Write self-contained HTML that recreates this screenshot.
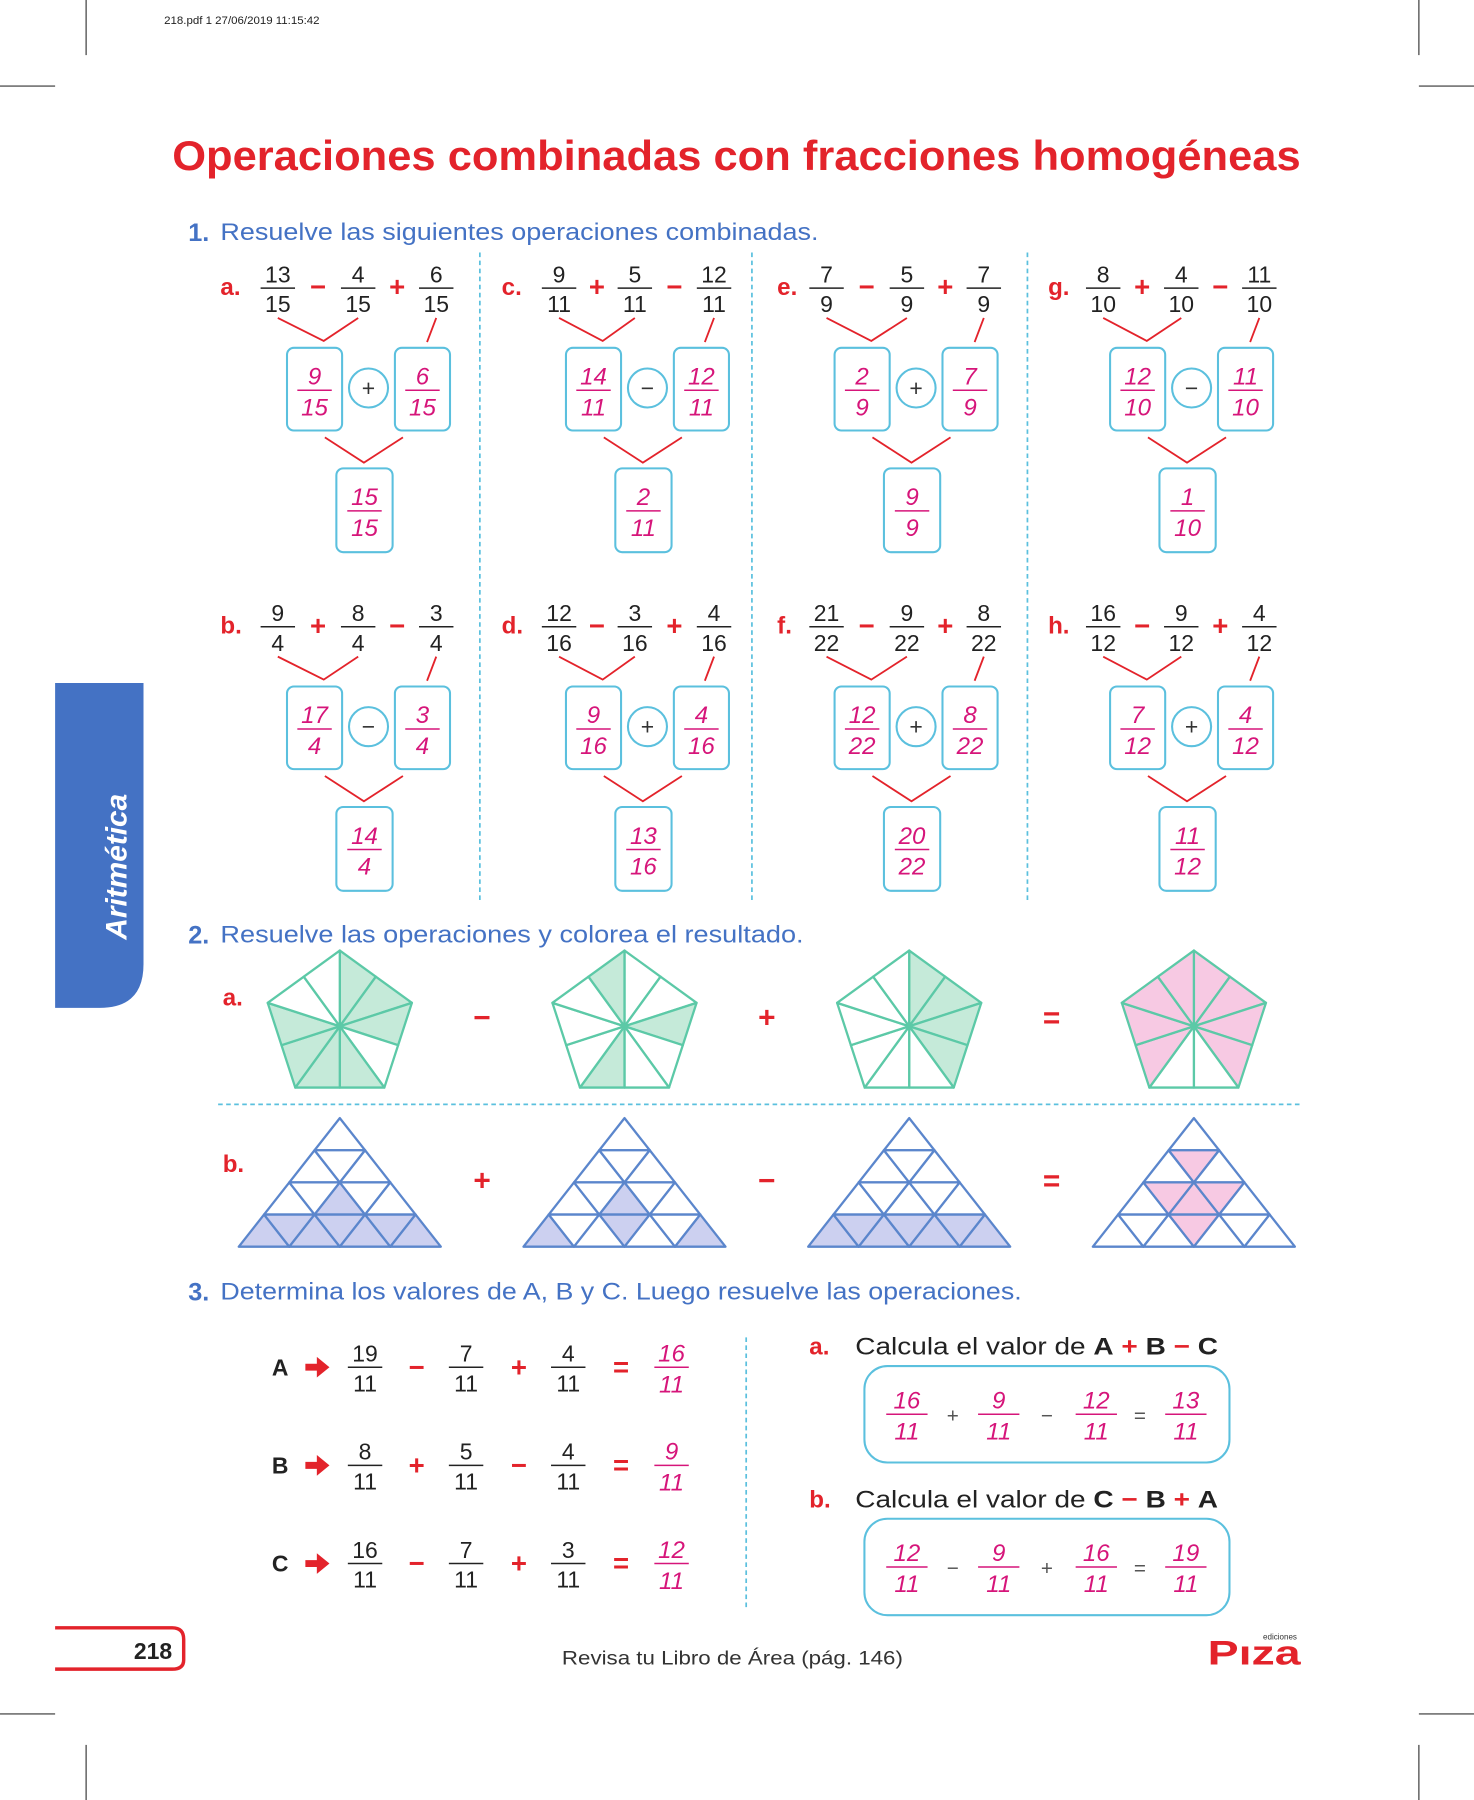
<!DOCTYPE html>
<html><head><meta charset="utf-8"><style>
html,body{margin:0;padding:0;background:#fff}
svg{display:block}
text{font-family:"Liberation Sans",sans-serif}
</style></head><body>
<svg id="s" width="1474" height="1800" viewBox="0 0 1284 1568" xmlns="http://www.w3.org/2000/svg">
<g stroke="#333" stroke-width="1">
<line x1="75" y1="0" x2="75" y2="48"/><line x1="1236" y1="0" x2="1236" y2="48"/>
<line x1="0" y1="75" x2="48" y2="75"/><line x1="1236" y1="75" x2="1284" y2="75"/>
<line x1="0" y1="1493" x2="48" y2="1493"/><line x1="1236" y1="1493" x2="1284" y2="1493"/>
<line x1="75" y1="1520" x2="75" y2="1568"/><line x1="1236" y1="1520" x2="1236" y2="1568"/>
</g>
<text x="143" y="21" font-size="10" fill="#222">218.pdf  1  27/06/2019  11:15:42</text>
<text x="150" y="148" font-size="36" font-weight="bold" fill="#e3232b" textLength="983" lengthAdjust="spacingAndGlyphs">Operaciones combinadas con fracciones homogéneas</text>
<path d="M48 595 H125 V840 Q125 878 87 878 H48 Z" fill="#4472c4"/>
<text transform="translate(110 755) rotate(-90)" text-anchor="middle" font-size="26" font-weight="bold" font-style="italic" fill="#fff">Aritmética</text>
<text x="164" y="210" font-size="22" font-weight="bold" fill="#4472c4">1.</text>
<text x="192" y="209" font-size="21" fill="#4472c4" textLength="521" lengthAdjust="spacingAndGlyphs">Resuelve las siguientes operaciones combinadas.</text>
<text x="164" y="822" font-size="22" font-weight="bold" fill="#4472c4">2.</text>
<text x="192" y="821" font-size="21" fill="#4472c4" textLength="508" lengthAdjust="spacingAndGlyphs">Resuelve las operaciones y colorea el resultado.</text>
<text x="164" y="1133" font-size="22" font-weight="bold" fill="#4472c4">3.</text>
<text x="192" y="1132" font-size="21" fill="#4472c4" textLength="698" lengthAdjust="spacingAndGlyphs">Determina los valores de A, B y C. Luego resuelve las operaciones.</text>
<g stroke="#5bc0de" stroke-width="1.5" stroke-dasharray="4 3">
<line x1="418" y1="220" x2="418" y2="785"/><line x1="655" y1="220" x2="655" y2="785"/><line x1="895" y1="220" x2="895" y2="785"/>
<line x1="190" y1="962" x2="1132" y2="962"/><line x1="650" y1="1165" x2="650" y2="1400"/>
</g>
<text x="194" y="876" font-size="21" font-weight="bold" fill="#e3232b">a.</text>
<text x="194" y="1021" font-size="21" font-weight="bold" fill="#e3232b">b.</text>
<text x="705" y="1180" font-size="21" font-weight="bold" fill="#e3232b">a.</text>
<text x="745" y="1180" font-size="21" fill="#222" textLength="316" lengthAdjust="spacingAndGlyphs">Calcula el valor de <tspan font-weight="bold">A</tspan> <tspan font-weight="bold" fill="#e3232b">+</tspan> <tspan font-weight="bold">B</tspan> <tspan font-weight="bold" fill="#e3232b">−</tspan> <tspan font-weight="bold">C</tspan></text>
<text x="705" y="1313" font-size="21" font-weight="bold" fill="#e3232b">b.</text>
<text x="745" y="1313" font-size="21" fill="#222" textLength="316" lengthAdjust="spacingAndGlyphs">Calcula el valor de <tspan font-weight="bold">C</tspan> <tspan font-weight="bold" fill="#e3232b">−</tspan> <tspan font-weight="bold">B</tspan> <tspan font-weight="bold" fill="#e3232b">+</tspan> <tspan font-weight="bold">A</tspan></text>
<rect x="753" y="1190" width="318" height="84" rx="20" fill="none" stroke="#5bc0de" stroke-width="1.8"/>
<rect x="753" y="1323" width="318" height="84" rx="20" fill="none" stroke="#5bc0de" stroke-width="1.8"/>
<path d="M48 1418 H150 Q160 1418 160 1428 V1446 Q160 1454 150 1454 H48" fill="none" stroke="#e3232b" stroke-width="3"/>
<text x="150" y="1445" text-anchor="end" font-size="20" font-weight="bold" fill="#222">218</text>
<text x="638" y="1450" text-anchor="middle" font-size="17" fill="#333" textLength="297" lengthAdjust="spacingAndGlyphs">Revisa tu Libro de Área (pág. 146)</text>
<text x="1115" y="1428" text-anchor="middle" font-size="7" fill="#333">ediciones</text>
<text x="1052" y="1450" font-size="30" font-weight="bold" fill="#e3232b" textLength="81" lengthAdjust="spacingAndGlyphs">Pıza</text>
<g id="dyn"></g>
</svg>
<script>
// Section 1 data
const probLetters = ['a','c','e','g','b','d','f','h'];
const probNums = [[13,4,6],[9,5,12],[7,5,7],[8,4,11],[9,8,3],[12,3,4],[21,9,8],[16,9,4]];
const probDens = [15,11,9,10,4,16,22,12];
const probOps = [['−','+'],['+','−'],['−','+'],['+','−'],['+','−'],['−','+'],['−','+'],['−','+']];
const boxNums = [[9,6],[14,12],[2,7],[12,11],[17,3],[9,4],[12,8],[7,4]];
const boxOps = ['+','−','+','−','−','+','+','+'];
const resultNums = [15,2,9,1,14,13,20,11];
// Section 2 data
const pentShaded = [[0,1,2,4,5,6,7],[2,5,9],[0,1,2,3],[0,1,2,3,6,7,8,9]];
const pentOps = ['−','+','='];
const triShaded = [[6,9,10,11,12,13,14,15],[6,9,12,15],[9,10,11,12,13,14,15],[2,5,6,7,12]];
const triOps = ['+','−','='];
// Section 3 data
const rowLabels = ['A','B','C'];
const rowNums = [[19,7,4],[8,5,4],[16,7,3]];
const rowOps = [['−','+'],['+','−'],['−','+']];
const rowAns = [16,9,12];
const den3 = 11;
const calcNums = [[16,9,12,13],[12,9,16,19]];
const calcOps = [['+','−'],['−','+']];

const NS='http://www.w3.org/2000/svg';
const G=document.getElementById('dyn');
function el(tag,attrs,parent,txt){const e=document.createElementNS(NS,tag);for(const k in attrs)e.setAttribute(k,attrs[k]);if(txt!==undefined)e.textContent=txt;(parent||G).appendChild(e);return e;}
const colX=[192,437,677,913];
const colFx=[[242,312,380],[487,553,622],[720,790,857],[961,1029,1097]];
const colBx=[250,493,727,967];
const PINK='#d6157a', RED='#e3232b', BLUE='#5bc0de';
function frac(g,cx,ly,n,d,opt){
  const pink=opt&&opt.pink, fs=(opt&&opt.fs)||20, w=(opt&&opt.w)||30;
  const a={ 'text-anchor':'middle','font-size':fs,fill:pink?PINK:'#222'}; if(pink)a['font-style']='italic';
  const t1=el('text',Object.assign({x:cx,y:ly-5},a),g,String(n));
  
  
  const l=el('line',{x1:cx-w/2,y1:ly,x2:cx+w/2,y2:ly,stroke:pink?PINK:'#222','stroke-width':1.3},g);
  
  
  const t2=el('text',Object.assign({x:cx,y:ly+fs+1},a),g,String(d));
  
  
}
function op(g,x,y,s,fs){const t=el('text',{x:x,y:y,'text-anchor':'middle','font-size':fs||24,'font-weight':'bold',fill:RED},g,s);
  
  }
// Section 1
probLetters.forEach((L,i)=>{
  const g=el('g',{});
  
  
  const c4=i%4, X=colX[c4], dy=i<4?0:295, ly=251+dy, B=colBx[c4];
  const lt=el('text',{x:X,y:ly+6,'font-size':21,'font-weight':'bold',fill:RED},g,L+'.');
  
  
  const fx=colFx[c4];
  fx.forEach((x,k)=>frac(g,x,ly,probNums[i][k],probDens[i]));
  op(g,(fx[0]+fx[1])/2,ly+7,probOps[i][0]); op(g,(fx[1]+fx[2])/2,ly+7,probOps[i][1]);
  const conn=el('path',{d:`M${fx[0]} ${ly+26} L${B+32} ${ly+46} L${fx[1]} ${ly+26} M${fx[2]} ${ly+26} L${fx[2]-8} ${ly+47} M${B+33} ${ly+130} L${B+67} ${ly+152} L${B+101} ${ly+130}`,fill:'none',stroke:RED,'stroke-width':1.6},g);
  
  
  const by=ly+52;
  [[B,boxNums[i][0]],[B+94,boxNums[i][1]]].forEach(([bx,n])=>{
    const r=el('rect',{x:bx,y:by,width:48,height:72,rx:6,fill:'#fff',stroke:BLUE,'stroke-width':1.8},g);
    
    
    frac(g,bx+24,by+37,n,probDens[i],{pink:1,fs:21,w:30});
  });
  const c=el('circle',{cx:B+71,cy:by+35,r:17,fill:'#fff',stroke:BLUE,'stroke-width':1.8},g);
  
  
  const ct=el('text',{x:B+71,y:by+42,'text-anchor':'middle','font-size':20,fill:'#333'},g,boxOps[i]);
  
  
  const ry=by+105;
  const rr=el('rect',{x:B+43,y:ry,width:49,height:73,rx:6,fill:'#fff',stroke:BLUE,'stroke-width':1.8},g);
  
  
  frac(g,B+67.5,ry+37,resultNums[i],probDens[i],{pink:1,fs:21,w:30});
});
// Section 2 pentagons
const pentCx=[296,544,792,1040], pcy=894, R=66;
pentCx.forEach((cx,pi)=>{
  const g=el('g',{});
  
  
  const V=[],M=[];
  for(let i=0;i<5;i++){const a=(-90+72*i)*Math.PI/180;V.push([cx+R*Math.cos(a),pcy+R*Math.sin(a)]);}
  for(let i=0;i<5;i++){const b=V[(i+1)%5];M.push([(V[i][0]+b[0])/2,(V[i][1]+b[1])/2]);}
  const fillC=pi===3?'#f7c9e3':'#c5ead9';
  for(let s=0;s<10;s++){
    const i=Math.floor(s/2);
    const p1=s%2===0?V[i]:M[i], p2=s%2===0?M[i]:V[(i+1)%5];
    const sh=pentShaded[pi].includes(s);
    const p=el('polygon',{points:`${cx},${pcy} ${p1[0]},${p1[1]} ${p2[0]},${p2[1]}`,fill:sh?fillC:'#fff',stroke:'#5cc9a7','stroke-width':2,'stroke-linejoin':'round'},g);
    
    
  }
});
pentOps.forEach((o,i)=>op(G,420+248*i,895,o,26));
// Triangles
const triCx=[296,544,792,1040], tTop=974, tH=112, tW=176, rows=4, h=tH/rows, w=tW/rows;
triCx.forEach((cx,ti)=>{
  const g=el('g',{});
  
  
  const fillC=ti===3?'#f7c9e3':'#ccd0f0';
  let idx=0;
  for(let r=0;r<rows;r++){
    const yt=tTop+r*h, yb=yt+h, bl=cx-(r+1)*w/2;
    for(let k=0;k<2*r+1;k++){
      const j=Math.floor(k/2); let pts;
      if(k%2===0) pts=`${bl+j*w},${yb} ${bl+(j+1)*w},${yb} ${bl+j*w+w/2},${yt}`;
      else pts=`${bl+j*w+w/2},${yt} ${bl+j*w+1.5*w},${yt} ${bl+(j+1)*w},${yb}`;
      const sh=triShaded[ti].includes(idx);
      const p=el('polygon',{points:pts,fill:sh?fillC:'#fff',stroke:'#5b86cc','stroke-width':2,'stroke-linejoin':'round'},g);
      
      
      idx++;
    }
  }
});
triOps.forEach((o,i)=>op(G,420+248*i,1037,o,26));
// Section 3 rows
rowLabels.forEach((L,i)=>{
  const g=el('g',{});
  
  
  const ly=1191+i*85.5;
  const t=el('text',{x:244,y:ly+7,'text-anchor':'middle','font-size':20,'font-weight':'bold',fill:'#222'},g,L);
  
  
  const ar=el('path',{d:`M266 ${ly-3} H276 V${ly-9} L287 ${ly} L276 ${ly+9} V${ly+3} H266 Z`,fill:RED},g);
  
  
  [318,406,495].forEach((x,k)=>frac(g,x,ly,rowNums[i][k],den3));
  op(g,363,ly+8,rowOps[i][0]); op(g,452,ly+8,rowOps[i][1]); op(g,541,ly+8,'=');
  frac(g,585,ly,rowAns[i],den3,{pink:1,fs:21});
});
calcNums.forEach((nums,i)=>{
  const g=el('g',{});
  
  
  const ly=1232+i*133;
  [790,870,955,1033].forEach((x,k)=>frac(g,x,ly,nums[k],den3,{pink:1,fs:21,w:36}));
  [[830,calcOps[i][0]],[912,calcOps[i][1]],[993,'=']].forEach(([x,s])=>{
    const t=el('text',{x:x,y:ly+7,'text-anchor':'middle','font-size':18,fill:'#555'},g,s);
    
    
  });
});
</script>
</body></html>
